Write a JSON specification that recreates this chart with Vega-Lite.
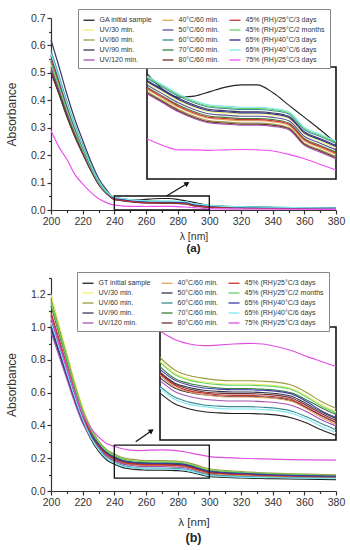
{
"$schema":"https://vega.github.io/schema/vega-lite/v6.json",
"background":"white",
"padding":{"left":5,"top":8,"right":5,"bottom":3},
"spacing":16,
"config":{
 "view":{"stroke":null},
 "font":"Liberation Sans",
 "axis":{"labelFont":"Liberation Sans","titleFont":"Liberation Sans","labelFontSize":10.5,"titleFontSize":12,"titleFontWeight":"normal","labelColor":"#333","titleColor":"#333","domainColor":"#333","tickColor":"#333","domainWidth":1.2,"tickWidth":1.2,"grid":false,"tickSize":4,"labelPadding":2,"labelFlush":false,"labelOverlap":false},
 "legend":{"labelFont":"Liberation Sans","labelFontSize":7,"labelColor":"#333","symbolType":"stroke","symbolSize":121,"symbolStrokeWidth":1.3,"strokeColor":"#888","fillColor":"white","padding":4.5,"rowPadding":-2.6,"columnPadding":7,"labelOffset":4,"labelLimit":200},
 "title":{"font":"Liberation Sans","color":"#222"}
},
"datasets":{
"na":[{"k":1,"n":"GA initial sample"},{"k":2,"n":"UV/30 min."},{"k":3,"n":"UV/60 min."},{"k":4,"n":"UV/90 min."},{"k":5,"n":"UV/120 min."},{"k":6,"n":"40°C/60 min."},{"k":7,"n":"50°C/60 min."},{"k":8,"n":"60°C/60 min."},{"k":9,"n":"70°C/60 min."},{"k":10,"n":"80°C/60 min."},{"k":11,"n":"45% (RH)/25°C/3 days"},{"k":12,"n":"45% (RH)/25°C/2 months"},{"k":13,"n":"65% (RH)/40°C/3 days"},{"k":14,"n":"65% (RH)/40°C/6 days"},{"k":15,"n":"75% (RH)/25°C/3 days"}],
"nb":[{"k":1,"n":"GT initial sample"},{"k":2,"n":"UV/30 min."},{"k":3,"n":"UV/60 min."},{"k":4,"n":"UV/90 min."},{"k":5,"n":"UV/120 min."},{"k":6,"n":"40°C/60 min."},{"k":7,"n":"50°C/60 min."},{"k":8,"n":"60°C/60 min."},{"k":9,"n":"70°C/60 min."},{"k":10,"n":"80°C/60 min."},{"k":11,"n":"45% (RH)/25°C/3 days"},{"k":12,"n":"45% (RH)/25°C/2 months"},{"k":13,"n":"65% (RH)/40°C/3 days"},{"k":14,"n":"65% (RH)/40°C/6 days"},{"k":15,"n":"75% (RH)/25°C/3 days"}],
"boxa":[{"x1":240,"x2":300,"y1":0,"y2":0.051}],
"arra":[{"x1":273,"y1":0.051,"x2":286,"y2":0.097}],
"ia":[{"x1":240,"x2":300,"y1":0,"y2":0.05}],
"boxb":[{"x1":240,"x2":300,"y1":0.078,"y2":0.28}],
"arrb":[{"x1":253.5,"y1":0.30,"x2":263.5,"y2":0.368}],
"ib":[{"x1":240,"x2":300,"y1":0.08,"y2":0.28}],
"a":[
{"k":1,"x":200,"y":0.50},{"k":1,"x":205,"y":0.423},{"k":1,"x":210,"y":0.341},{"k":1,"x":215,"y":0.268},{"k":1,"x":220,"y":0.205},{"k":1,"x":225,"y":0.146},{"k":1,"x":230,"y":0.094},{"k":1,"x":235,"y":0.060},{"k":1,"x":240,"y":0.047},{"k":1,"x":245,"y":0.040},{"k":1,"x":250,"y":0.0365},{"k":1,"x":255,"y":0.037},{"k":1,"x":260,"y":0.039},{"k":1,"x":265,"y":0.041},{"k":1,"x":270,"y":0.042},{"k":1,"x":275,"y":0.042},{"k":1,"x":280,"y":0.0385},{"k":1,"x":285,"y":0.033},{"k":1,"x":290,"y":0.0275},{"k":1,"x":295,"y":0.022},{"k":1,"x":300,"y":0.016},{"k":1,"x":320,"y":0.011},{"k":1,"x":340,"y":0.009},{"k":1,"x":380,"y":0.007},
{"k":2,"x":200,"y":0.53},{"k":2,"x":205,"y":0.448},{"k":2,"x":210,"y":0.361},{"k":2,"x":215,"y":0.284},{"k":2,"x":220,"y":0.217},{"k":2,"x":225,"y":0.154},{"k":2,"x":230,"y":0.099},{"k":2,"x":235,"y":0.064},{"k":2,"x":240,"y":0.043},{"k":2,"x":245,"y":0.039},{"k":2,"x":250,"y":0.035},{"k":2,"x":255,"y":0.032},{"k":2,"x":260,"y":0.030},{"k":2,"x":265,"y":0.0295},{"k":2,"x":270,"y":0.029},{"k":2,"x":275,"y":0.029},{"k":2,"x":280,"y":0.0285},{"k":2,"x":285,"y":0.027},{"k":2,"x":290,"y":0.020},{"k":2,"x":295,"y":0.017},{"k":2,"x":300,"y":0.014},{"k":2,"x":320,"y":0.0105},{"k":2,"x":340,"y":0.0085},{"k":2,"x":380,"y":0.0063},
{"k":3,"x":200,"y":0.54},{"k":3,"x":205,"y":0.456},{"k":3,"x":210,"y":0.368},{"k":3,"x":215,"y":0.289},{"k":3,"x":220,"y":0.221},{"k":3,"x":225,"y":0.157},{"k":3,"x":230,"y":0.101},{"k":3,"x":235,"y":0.065},{"k":3,"x":240,"y":0.039},{"k":3,"x":245,"y":0.035},{"k":3,"x":250,"y":0.031},{"k":3,"x":255,"y":0.028},{"k":3,"x":260,"y":0.026},{"k":3,"x":265,"y":0.0255},{"k":3,"x":270,"y":0.025},{"k":3,"x":275,"y":0.025},{"k":3,"x":280,"y":0.0245},{"k":3,"x":285,"y":0.023},{"k":3,"x":290,"y":0.016},{"k":3,"x":295,"y":0.013},{"k":3,"x":300,"y":0.010},{"k":3,"x":320,"y":0.0085},{"k":3,"x":340,"y":0.0065},{"k":3,"x":380,"y":0.005},
{"k":4,"x":200,"y":0.62},{"k":4,"x":205,"y":0.524},{"k":4,"x":210,"y":0.423},{"k":4,"x":215,"y":0.332},{"k":4,"x":220,"y":0.254},{"k":4,"x":225,"y":0.180},{"k":4,"x":230,"y":0.116},{"k":4,"x":235,"y":0.074},{"k":4,"x":240,"y":0.044},{"k":4,"x":245,"y":0.040},{"k":4,"x":250,"y":0.036},{"k":4,"x":255,"y":0.033},{"k":4,"x":260,"y":0.031},{"k":4,"x":265,"y":0.0305},{"k":4,"x":270,"y":0.030},{"k":4,"x":275,"y":0.030},{"k":4,"x":280,"y":0.0295},{"k":4,"x":285,"y":0.028},{"k":4,"x":290,"y":0.021},{"k":4,"x":295,"y":0.018},{"k":4,"x":300,"y":0.015},{"k":4,"x":320,"y":0.011},{"k":4,"x":340,"y":0.009},{"k":4,"x":380,"y":0.0067},
{"k":5,"x":200,"y":0.51},{"k":5,"x":205,"y":0.431},{"k":5,"x":210,"y":0.348},{"k":5,"x":215,"y":0.273},{"k":5,"x":220,"y":0.209},{"k":5,"x":225,"y":0.148},{"k":5,"x":230,"y":0.095},{"k":5,"x":235,"y":0.061},{"k":5,"x":240,"y":0.038},{"k":5,"x":245,"y":0.034},{"k":5,"x":250,"y":0.030},{"k":5,"x":255,"y":0.027},{"k":5,"x":260,"y":0.025},{"k":5,"x":265,"y":0.0245},{"k":5,"x":270,"y":0.024},{"k":5,"x":275,"y":0.024},{"k":5,"x":280,"y":0.0235},{"k":5,"x":285,"y":0.022},{"k":5,"x":290,"y":0.015},{"k":5,"x":295,"y":0.012},{"k":5,"x":300,"y":0.009},{"k":5,"x":320,"y":0.008},{"k":5,"x":340,"y":0.006},{"k":5,"x":380,"y":0.0047},
{"k":6,"x":200,"y":0.55},{"k":6,"x":205,"y":0.465},{"k":6,"x":210,"y":0.375},{"k":6,"x":215,"y":0.295},{"k":6,"x":220,"y":0.225},{"k":6,"x":225,"y":0.160},{"k":6,"x":230,"y":0.103},{"k":6,"x":235,"y":0.066},{"k":6,"x":240,"y":0.040},{"k":6,"x":245,"y":0.036},{"k":6,"x":250,"y":0.032},{"k":6,"x":255,"y":0.029},{"k":6,"x":260,"y":0.027},{"k":6,"x":265,"y":0.0265},{"k":6,"x":270,"y":0.026},{"k":6,"x":275,"y":0.026},{"k":6,"x":280,"y":0.0255},{"k":6,"x":285,"y":0.024},{"k":6,"x":290,"y":0.017},{"k":6,"x":295,"y":0.014},{"k":6,"x":300,"y":0.011},{"k":6,"x":320,"y":0.009},{"k":6,"x":340,"y":0.007},{"k":6,"x":380,"y":0.0053},
{"k":7,"x":200,"y":0.52},{"k":7,"x":205,"y":0.439},{"k":7,"x":210,"y":0.355},{"k":7,"x":215,"y":0.279},{"k":7,"x":220,"y":0.213},{"k":7,"x":225,"y":0.151},{"k":7,"x":230,"y":0.097},{"k":7,"x":235,"y":0.062},{"k":7,"x":240,"y":0.042},{"k":7,"x":245,"y":0.038},{"k":7,"x":250,"y":0.034},{"k":7,"x":255,"y":0.031},{"k":7,"x":260,"y":0.029},{"k":7,"x":265,"y":0.0285},{"k":7,"x":270,"y":0.028},{"k":7,"x":275,"y":0.028},{"k":7,"x":280,"y":0.0275},{"k":7,"x":285,"y":0.026},{"k":7,"x":290,"y":0.019},{"k":7,"x":295,"y":0.016},{"k":7,"x":300,"y":0.013},{"k":7,"x":320,"y":0.010},{"k":7,"x":340,"y":0.008},{"k":7,"x":380,"y":0.006},
{"k":8,"x":200,"y":0.58},{"k":8,"x":205,"y":0.490},{"k":8,"x":210,"y":0.396},{"k":8,"x":215,"y":0.311},{"k":8,"x":220,"y":0.237},{"k":8,"x":225,"y":0.169},{"k":8,"x":230,"y":0.108},{"k":8,"x":235,"y":0.070},{"k":8,"x":240,"y":0.045},{"k":8,"x":245,"y":0.041},{"k":8,"x":250,"y":0.037},{"k":8,"x":255,"y":0.034},{"k":8,"x":260,"y":0.032},{"k":8,"x":265,"y":0.0315},{"k":8,"x":270,"y":0.031},{"k":8,"x":275,"y":0.031},{"k":8,"x":280,"y":0.0305},{"k":8,"x":285,"y":0.029},{"k":8,"x":290,"y":0.022},{"k":8,"x":295,"y":0.019},{"k":8,"x":300,"y":0.016},{"k":8,"x":320,"y":0.0115},{"k":8,"x":340,"y":0.0095},{"k":8,"x":380,"y":0.007},
{"k":9,"x":200,"y":0.56},{"k":9,"x":205,"y":0.473},{"k":9,"x":210,"y":0.382},{"k":9,"x":215,"y":0.300},{"k":9,"x":220,"y":0.229},{"k":9,"x":225,"y":0.163},{"k":9,"x":230,"y":0.105},{"k":9,"x":235,"y":0.067},{"k":9,"x":240,"y":0.041},{"k":9,"x":245,"y":0.037},{"k":9,"x":250,"y":0.033},{"k":9,"x":255,"y":0.030},{"k":9,"x":260,"y":0.028},{"k":9,"x":265,"y":0.0275},{"k":9,"x":270,"y":0.027},{"k":9,"x":275,"y":0.027},{"k":9,"x":280,"y":0.0265},{"k":9,"x":285,"y":0.025},{"k":9,"x":290,"y":0.018},{"k":9,"x":295,"y":0.015},{"k":9,"x":300,"y":0.012},{"k":9,"x":320,"y":0.0095},{"k":9,"x":340,"y":0.0075},{"k":9,"x":380,"y":0.0057},
{"k":10,"x":200,"y":0.505},{"k":10,"x":205,"y":0.427},{"k":10,"x":210,"y":0.344},{"k":10,"x":215,"y":0.271},{"k":10,"x":220,"y":0.207},{"k":10,"x":225,"y":0.147},{"k":10,"x":230,"y":0.094},{"k":10,"x":235,"y":0.061},{"k":10,"x":240,"y":0.0385},{"k":10,"x":245,"y":0.0345},{"k":10,"x":250,"y":0.0305},{"k":10,"x":255,"y":0.0275},{"k":10,"x":260,"y":0.0255},{"k":10,"x":265,"y":0.025},{"k":10,"x":270,"y":0.0245},{"k":10,"x":275,"y":0.0245},{"k":10,"x":280,"y":0.024},{"k":10,"x":285,"y":0.0225},{"k":10,"x":290,"y":0.0155},{"k":10,"x":295,"y":0.0125},{"k":10,"x":300,"y":0.0095},{"k":10,"x":320,"y":0.0083},{"k":10,"x":340,"y":0.0063},{"k":10,"x":380,"y":0.0048},
{"k":11,"x":200,"y":0.545},{"k":11,"x":205,"y":0.461},{"k":11,"x":210,"y":0.372},{"k":11,"x":215,"y":0.292},{"k":11,"x":220,"y":0.223},{"k":11,"x":225,"y":0.159},{"k":11,"x":230,"y":0.102},{"k":11,"x":235,"y":0.065},{"k":11,"x":240,"y":0.0405},{"k":11,"x":245,"y":0.0365},{"k":11,"x":250,"y":0.0325},{"k":11,"x":255,"y":0.0295},{"k":11,"x":260,"y":0.0275},{"k":11,"x":265,"y":0.027},{"k":11,"x":270,"y":0.0265},{"k":11,"x":275,"y":0.0265},{"k":11,"x":280,"y":0.026},{"k":11,"x":285,"y":0.0245},{"k":11,"x":290,"y":0.0175},{"k":11,"x":295,"y":0.0145},{"k":11,"x":300,"y":0.0115},{"k":11,"x":320,"y":0.0093},{"k":11,"x":340,"y":0.0073},{"k":11,"x":380,"y":0.0055},
{"k":12,"x":200,"y":0.535},{"k":12,"x":205,"y":0.452},{"k":12,"x":210,"y":0.365},{"k":12,"x":215,"y":0.287},{"k":12,"x":220,"y":0.219},{"k":12,"x":225,"y":0.156},{"k":12,"x":230,"y":0.100},{"k":12,"x":235,"y":0.064},{"k":12,"x":240,"y":0.0455},{"k":12,"x":245,"y":0.0415},{"k":12,"x":250,"y":0.0375},{"k":12,"x":255,"y":0.0345},{"k":12,"x":260,"y":0.0325},{"k":12,"x":265,"y":0.032},{"k":12,"x":270,"y":0.0315},{"k":12,"x":275,"y":0.0315},{"k":12,"x":280,"y":0.031},{"k":12,"x":285,"y":0.0295},{"k":12,"x":290,"y":0.0225},{"k":12,"x":295,"y":0.0195},{"k":12,"x":300,"y":0.0165},{"k":12,"x":320,"y":0.0118},{"k":12,"x":340,"y":0.0098},{"k":12,"x":380,"y":0.0072},
{"k":13,"x":200,"y":0.565},{"k":13,"x":205,"y":0.477},{"k":13,"x":210,"y":0.385},{"k":13,"x":215,"y":0.303},{"k":13,"x":220,"y":0.231},{"k":13,"x":225,"y":0.164},{"k":13,"x":230,"y":0.106},{"k":13,"x":235,"y":0.068},{"k":13,"x":240,"y":0.0435},{"k":13,"x":245,"y":0.0395},{"k":13,"x":250,"y":0.0355},{"k":13,"x":255,"y":0.0325},{"k":13,"x":260,"y":0.0305},{"k":13,"x":265,"y":0.030},{"k":13,"x":270,"y":0.0295},{"k":13,"x":275,"y":0.0295},{"k":13,"x":280,"y":0.029},{"k":13,"x":285,"y":0.0275},{"k":13,"x":290,"y":0.0205},{"k":13,"x":295,"y":0.0175},{"k":13,"x":300,"y":0.0145},{"k":13,"x":320,"y":0.0108},{"k":13,"x":340,"y":0.0088},{"k":13,"x":380,"y":0.0065},
{"k":14,"x":200,"y":0.57},{"k":14,"x":205,"y":0.482},{"k":14,"x":210,"y":0.389},{"k":14,"x":215,"y":0.306},{"k":14,"x":220,"y":0.233},{"k":14,"x":225,"y":0.166},{"k":14,"x":230,"y":0.107},{"k":14,"x":235,"y":0.068},{"k":14,"x":240,"y":0.046},{"k":14,"x":245,"y":0.042},{"k":14,"x":250,"y":0.038},{"k":14,"x":255,"y":0.035},{"k":14,"x":260,"y":0.033},{"k":14,"x":265,"y":0.0325},{"k":14,"x":270,"y":0.032},{"k":14,"x":275,"y":0.032},{"k":14,"x":280,"y":0.0315},{"k":14,"x":285,"y":0.030},{"k":14,"x":290,"y":0.023},{"k":14,"x":295,"y":0.020},{"k":14,"x":300,"y":0.017},{"k":14,"x":320,"y":0.012},{"k":14,"x":340,"y":0.010},{"k":14,"x":380,"y":0.0073},
{"k":15,"x":200,"y":0.29},{"k":15,"x":205,"y":0.23},{"k":15,"x":210,"y":0.185},{"k":15,"x":215,"y":0.13},{"k":15,"x":220,"y":0.095},{"k":15,"x":225,"y":0.065},{"k":15,"x":230,"y":0.042},{"k":15,"x":235,"y":0.027},{"k":15,"x":240,"y":0.018},{"k":15,"x":245,"y":0.015},{"k":15,"x":250,"y":0.013},{"k":15,"x":255,"y":0.013},{"k":15,"x":260,"y":0.0128},{"k":15,"x":265,"y":0.013},{"k":15,"x":270,"y":0.0132},{"k":15,"x":275,"y":0.013},{"k":15,"x":280,"y":0.0125},{"k":15,"x":285,"y":0.011},{"k":15,"x":290,"y":0.009},{"k":15,"x":295,"y":0.0065},{"k":15,"x":300,"y":0.004},{"k":15,"x":320,"y":0.003},{"k":15,"x":340,"y":0.003},{"k":15,"x":380,"y":0.002}
],
"b":[
{"k":1,"x":200,"y":1.00},{"k":1,"x":205,"y":0.852},{"k":1,"x":210,"y":0.704},{"k":1,"x":215,"y":0.556},{"k":1,"x":220,"y":0.426},{"k":1,"x":225,"y":0.320},{"k":1,"x":230,"y":0.243},{"k":1,"x":235,"y":0.191},{"k":1,"x":240,"y":0.163},{"k":1,"x":245,"y":0.144},{"k":1,"x":250,"y":0.135},{"k":1,"x":255,"y":0.130},{"k":1,"x":260,"y":0.128},{"k":1,"x":265,"y":0.127},{"k":1,"x":270,"y":0.127},{"k":1,"x":275,"y":0.126},{"k":1,"x":280,"y":0.124},{"k":1,"x":285,"y":0.119},{"k":1,"x":290,"y":0.110},{"k":1,"x":295,"y":0.098},{"k":1,"x":300,"y":0.088},{"k":1,"x":320,"y":0.080},{"k":1,"x":340,"y":0.075},{"k":1,"x":380,"y":0.070},
{"k":2,"x":200,"y":1.20},{"k":2,"x":205,"y":1.022},{"k":2,"x":210,"y":0.845},{"k":2,"x":215,"y":0.667},{"k":2,"x":220,"y":0.511},{"k":2,"x":225,"y":0.389},{"k":2,"x":230,"y":0.300},{"k":2,"x":235,"y":0.248},{"k":2,"x":240,"y":0.220},{"k":2,"x":245,"y":0.198},{"k":2,"x":250,"y":0.188},{"k":2,"x":255,"y":0.183},{"k":2,"x":260,"y":0.180},{"k":2,"x":265,"y":0.179},{"k":2,"x":270,"y":0.179},{"k":2,"x":275,"y":0.178},{"k":2,"x":280,"y":0.176},{"k":2,"x":285,"y":0.171},{"k":2,"x":290,"y":0.158},{"k":2,"x":295,"y":0.143},{"k":2,"x":300,"y":0.130},{"k":2,"x":320,"y":0.114},{"k":2,"x":340,"y":0.105},{"k":2,"x":380,"y":0.095},
{"k":3,"x":200,"y":1.17},{"k":3,"x":205,"y":0.997},{"k":3,"x":210,"y":0.824},{"k":3,"x":215,"y":0.651},{"k":3,"x":220,"y":0.498},{"k":3,"x":225,"y":0.387},{"k":3,"x":230,"y":0.306},{"k":3,"x":235,"y":0.254},{"k":3,"x":240,"y":0.226},{"k":3,"x":245,"y":0.204},{"k":3,"x":250,"y":0.194},{"k":3,"x":255,"y":0.189},{"k":3,"x":260,"y":0.186},{"k":3,"x":265,"y":0.185},{"k":3,"x":270,"y":0.185},{"k":3,"x":275,"y":0.184},{"k":3,"x":280,"y":0.182},{"k":3,"x":285,"y":0.177},{"k":3,"x":290,"y":0.164},{"k":3,"x":295,"y":0.148},{"k":3,"x":300,"y":0.136},{"k":3,"x":320,"y":0.119},{"k":3,"x":340,"y":0.109},{"k":3,"x":380,"y":0.099},
{"k":4,"x":200,"y":0.99},{"k":4,"x":205,"y":0.843},{"k":4,"x":210,"y":0.697},{"k":4,"x":215,"y":0.550},{"k":4,"x":220,"y":0.422},{"k":4,"x":225,"y":0.334},{"k":4,"x":230,"y":0.270},{"k":4,"x":235,"y":0.218},{"k":4,"x":240,"y":0.190},{"k":4,"x":245,"y":0.172},{"k":4,"x":250,"y":0.164},{"k":4,"x":255,"y":0.160},{"k":4,"x":260,"y":0.158},{"k":4,"x":265,"y":0.157},{"k":4,"x":270,"y":0.157},{"k":4,"x":275,"y":0.156},{"k":4,"x":280,"y":0.154},{"k":4,"x":285,"y":0.149},{"k":4,"x":290,"y":0.137},{"k":4,"x":295,"y":0.123},{"k":4,"x":300,"y":0.111},{"k":4,"x":320,"y":0.101},{"k":4,"x":340,"y":0.094},{"k":4,"x":380,"y":0.088},
{"k":5,"x":200,"y":0.97},{"k":5,"x":205,"y":0.826},{"k":5,"x":210,"y":0.683},{"k":5,"x":215,"y":0.539},{"k":5,"x":220,"y":0.413},{"k":5,"x":225,"y":0.327},{"k":5,"x":230,"y":0.265},{"k":5,"x":235,"y":0.213},{"k":5,"x":240,"y":0.185},{"k":5,"x":245,"y":0.166},{"k":5,"x":250,"y":0.157},{"k":5,"x":255,"y":0.152},{"k":5,"x":260,"y":0.150},{"k":5,"x":265,"y":0.149},{"k":5,"x":270,"y":0.149},{"k":5,"x":275,"y":0.148},{"k":5,"x":280,"y":0.146},{"k":5,"x":285,"y":0.141},{"k":5,"x":290,"y":0.130},{"k":5,"x":295,"y":0.116},{"k":5,"x":300,"y":0.105},{"k":5,"x":320,"y":0.096},{"k":5,"x":340,"y":0.090},{"k":5,"x":380,"y":0.084},
{"k":6,"x":200,"y":1.08},{"k":6,"x":205,"y":0.920},{"k":6,"x":210,"y":0.760},{"k":6,"x":215,"y":0.600},{"k":6,"x":220,"y":0.460},{"k":6,"x":225,"y":0.353},{"k":6,"x":230,"y":0.275},{"k":6,"x":235,"y":0.223},{"k":6,"x":240,"y":0.195},{"k":6,"x":245,"y":0.174},{"k":6,"x":250,"y":0.165},{"k":6,"x":255,"y":0.160},{"k":6,"x":260,"y":0.157},{"k":6,"x":265,"y":0.156},{"k":6,"x":270,"y":0.156},{"k":6,"x":275,"y":0.155},{"k":6,"x":280,"y":0.153},{"k":6,"x":285,"y":0.148},{"k":6,"x":290,"y":0.135},{"k":6,"x":295,"y":0.120},{"k":6,"x":300,"y":0.108},{"k":6,"x":320,"y":0.096},{"k":6,"x":340,"y":0.089},{"k":6,"x":380,"y":0.082},
{"k":7,"x":200,"y":1.04},{"k":7,"x":205,"y":0.886},{"k":7,"x":210,"y":0.732},{"k":7,"x":215,"y":0.578},{"k":7,"x":220,"y":0.443},{"k":7,"x":225,"y":0.348},{"k":7,"x":230,"y":0.280},{"k":7,"x":235,"y":0.228},{"k":7,"x":240,"y":0.200},{"k":7,"x":245,"y":0.181},{"k":7,"x":250,"y":0.173},{"k":7,"x":255,"y":0.168},{"k":7,"x":260,"y":0.166},{"k":7,"x":265,"y":0.165},{"k":7,"x":270,"y":0.165},{"k":7,"x":275,"y":0.164},{"k":7,"x":280,"y":0.162},{"k":7,"x":285,"y":0.157},{"k":7,"x":290,"y":0.144},{"k":7,"x":295,"y":0.130},{"k":7,"x":300,"y":0.118},{"k":7,"x":320,"y":0.105},{"k":7,"x":340,"y":0.098},{"k":7,"x":380,"y":0.090},
{"k":8,"x":200,"y":1.02},{"k":8,"x":205,"y":0.869},{"k":8,"x":210,"y":0.718},{"k":8,"x":215,"y":0.567},{"k":8,"x":220,"y":0.435},{"k":8,"x":225,"y":0.331},{"k":8,"x":230,"y":0.255},{"k":8,"x":235,"y":0.203},{"k":8,"x":240,"y":0.175},{"k":8,"x":245,"y":0.156},{"k":8,"x":250,"y":0.147},{"k":8,"x":255,"y":0.142},{"k":8,"x":260,"y":0.140},{"k":8,"x":265,"y":0.139},{"k":8,"x":270,"y":0.139},{"k":8,"x":275,"y":0.138},{"k":8,"x":280,"y":0.136},{"k":8,"x":285,"y":0.131},{"k":8,"x":290,"y":0.121},{"k":8,"x":295,"y":0.109},{"k":8,"x":300,"y":0.098},{"k":8,"x":320,"y":0.089},{"k":8,"x":340,"y":0.084},{"k":8,"x":380,"y":0.078},
{"k":9,"x":200,"y":1.13},{"k":9,"x":205,"y":0.963},{"k":9,"x":210,"y":0.796},{"k":9,"x":215,"y":0.628},{"k":9,"x":220,"y":0.481},{"k":9,"x":225,"y":0.370},{"k":9,"x":230,"y":0.290},{"k":9,"x":235,"y":0.238},{"k":9,"x":240,"y":0.210},{"k":9,"x":245,"y":0.189},{"k":9,"x":250,"y":0.180},{"k":9,"x":255,"y":0.175},{"k":9,"x":260,"y":0.172},{"k":9,"x":265,"y":0.171},{"k":9,"x":270,"y":0.171},{"k":9,"x":275,"y":0.170},{"k":9,"x":280,"y":0.168},{"k":9,"x":285,"y":0.163},{"k":9,"x":290,"y":0.151},{"k":9,"x":295,"y":0.137},{"k":9,"x":300,"y":0.125},{"k":9,"x":320,"y":0.110},{"k":9,"x":340,"y":0.101},{"k":9,"x":380,"y":0.092},
{"k":10,"x":200,"y":1.07},{"k":10,"x":205,"y":0.912},{"k":10,"x":210,"y":0.753},{"k":10,"x":215,"y":0.595},{"k":10,"x":220,"y":0.456},{"k":10,"x":225,"y":0.353},{"k":10,"x":230,"y":0.278},{"k":10,"x":235,"y":0.226},{"k":10,"x":240,"y":0.198},{"k":10,"x":245,"y":0.179},{"k":10,"x":250,"y":0.170},{"k":10,"x":255,"y":0.165},{"k":10,"x":260,"y":0.163},{"k":10,"x":265,"y":0.162},{"k":10,"x":270,"y":0.162},{"k":10,"x":275,"y":0.161},{"k":10,"x":280,"y":0.159},{"k":10,"x":285,"y":0.154},{"k":10,"x":290,"y":0.141},{"k":10,"x":295,"y":0.127},{"k":10,"x":300,"y":0.115},{"k":10,"x":320,"y":0.103},{"k":10,"x":340,"y":0.096},{"k":10,"x":380,"y":0.089},
{"k":11,"x":200,"y":1.09},{"k":11,"x":205,"y":0.929},{"k":11,"x":210,"y":0.767},{"k":11,"x":215,"y":0.606},{"k":11,"x":220,"y":0.464},{"k":11,"x":225,"y":0.356},{"k":11,"x":230,"y":0.277},{"k":11,"x":235,"y":0.225},{"k":11,"x":240,"y":0.197},{"k":11,"x":245,"y":0.177},{"k":11,"x":250,"y":0.167},{"k":11,"x":255,"y":0.163},{"k":11,"x":260,"y":0.160},{"k":11,"x":265,"y":0.159},{"k":11,"x":270,"y":0.159},{"k":11,"x":275,"y":0.158},{"k":11,"x":280,"y":0.156},{"k":11,"x":285,"y":0.151},{"k":11,"x":290,"y":0.138},{"k":11,"x":295,"y":0.124},{"k":11,"x":300,"y":0.112},{"k":11,"x":320,"y":0.101},{"k":11,"x":340,"y":0.094},{"k":11,"x":380,"y":0.087},
{"k":12,"x":200,"y":1.15},{"k":12,"x":205,"y":0.980},{"k":12,"x":210,"y":0.810},{"k":12,"x":215,"y":0.639},{"k":12,"x":220,"y":0.490},{"k":12,"x":225,"y":0.379},{"k":12,"x":230,"y":0.298},{"k":12,"x":235,"y":0.246},{"k":12,"x":240,"y":0.218},{"k":12,"x":245,"y":0.196},{"k":12,"x":250,"y":0.186},{"k":12,"x":255,"y":0.181},{"k":12,"x":260,"y":0.178},{"k":12,"x":265,"y":0.177},{"k":12,"x":270,"y":0.177},{"k":12,"x":275,"y":0.176},{"k":12,"x":280,"y":0.174},{"k":12,"x":285,"y":0.169},{"k":12,"x":290,"y":0.156},{"k":12,"x":295,"y":0.140},{"k":12,"x":300,"y":0.128},{"k":12,"x":320,"y":0.113},{"k":12,"x":340,"y":0.104},{"k":12,"x":380,"y":0.094},
{"k":13,"x":200,"y":1.01},{"k":13,"x":205,"y":0.861},{"k":13,"x":210,"y":0.711},{"k":13,"x":215,"y":0.562},{"k":13,"x":220,"y":0.430},{"k":13,"x":225,"y":0.346},{"k":13,"x":230,"y":0.285},{"k":13,"x":235,"y":0.233},{"k":13,"x":240,"y":0.205},{"k":13,"x":245,"y":0.186},{"k":13,"x":250,"y":0.177},{"k":13,"x":255,"y":0.172},{"k":13,"x":260,"y":0.170},{"k":13,"x":265,"y":0.169},{"k":13,"x":270,"y":0.169},{"k":13,"x":275,"y":0.168},{"k":13,"x":280,"y":0.166},{"k":13,"x":285,"y":0.161},{"k":13,"x":290,"y":0.148},{"k":13,"x":295,"y":0.132},{"k":13,"x":300,"y":0.120},{"k":13,"x":320,"y":0.107},{"k":13,"x":340,"y":0.099},{"k":13,"x":380,"y":0.091},
{"k":14,"x":200,"y":1.03},{"k":14,"x":205,"y":0.878},{"k":14,"x":210,"y":0.725},{"k":14,"x":215,"y":0.573},{"k":14,"x":220,"y":0.439},{"k":14,"x":225,"y":0.331},{"k":14,"x":230,"y":0.252},{"k":14,"x":235,"y":0.200},{"k":14,"x":240,"y":0.172},{"k":14,"x":245,"y":0.152},{"k":14,"x":250,"y":0.143},{"k":14,"x":255,"y":0.139},{"k":14,"x":260,"y":0.136},{"k":14,"x":265,"y":0.135},{"k":14,"x":270,"y":0.135},{"k":14,"x":275,"y":0.134},{"k":14,"x":280,"y":0.132},{"k":14,"x":285,"y":0.127},{"k":14,"x":290,"y":0.117},{"k":14,"x":295,"y":0.104},{"k":14,"x":300,"y":0.093},{"k":14,"x":320,"y":0.085},{"k":14,"x":340,"y":0.081},{"k":14,"x":380,"y":0.076},
{"k":15,"x":200,"y":1.06},{"k":15,"x":205,"y":0.90},{"k":15,"x":210,"y":0.75},{"k":15,"x":215,"y":0.60},{"k":15,"x":220,"y":0.47},{"k":15,"x":225,"y":0.385},{"k":15,"x":230,"y":0.33},{"k":15,"x":235,"y":0.29},{"k":15,"x":240,"y":0.273},{"k":15,"x":245,"y":0.258},{"k":15,"x":250,"y":0.25},{"k":15,"x":255,"y":0.247},{"k":15,"x":260,"y":0.248},{"k":15,"x":265,"y":0.25},{"k":15,"x":270,"y":0.251},{"k":15,"x":275,"y":0.25},{"k":15,"x":280,"y":0.245},{"k":15,"x":285,"y":0.238},{"k":15,"x":290,"y":0.228},{"k":15,"x":295,"y":0.219},{"k":15,"x":300,"y":0.21},{"k":15,"x":320,"y":0.20},{"k":15,"x":340,"y":0.194},{"k":15,"x":380,"y":0.188}
]
},
"vconcat":[
{
 "width":285,"height":192,
 "title":{"text":"(a)","orient":"bottom","frame":"group","anchor":"middle","fontSize":11.5,"fontWeight":"bold","offset":1},
 "layer":[
   {"data":{"name":"a"},
    "transform":[{"lookup":"k","from":{"data":{"name":"na"},"key":"k","fields":["n"]}}],
    "mark":{"type":"line","strokeWidth":1.2,"interpolate":"monotone"},
    "encoding":{
     "x":{"field":"x","type":"quantitative","scale":{"domain":[200,380],"nice":false,"zero":false},"axis":{"orient":"bottom","values":[200,220,240,260,280,300,320,340,360,380],"title":"λ [nm]","titleFontSize":10.5,"titlePadding":5}},
     "y":{"field":"y","type":"quantitative","scale":{"domain":[0,0.7],"nice":false},"axis":{"orient":"left","values":[0,0.1,0.2,0.3,0.4,0.5,0.6,0.7],"format":".1f","title":"Absorbance","titlePadding":12}},
     "color":{"field":"n","type":"nominal",
      "scale":{"domain":["GA initial sample","UV/30 min.","UV/60 min.","UV/90 min.","UV/120 min.","40°C/60 min.","50°C/60 min.","60°C/60 min.","70°C/60 min.","80°C/60 min.","45% (RH)/25°C/3 days","45% (RH)/25°C/2 months","65% (RH)/40°C/3 days","65% (RH)/40°C/6 days","75% (RH)/25°C/3 days"],
               "range":["#222222","#eeee70","#9c9c40","#36365e","#a452b4","#e2a45a","#5e5490","#3d8c94","#3c7c3c","#6e3434","#cc3333","#66d266","#2e2e8e","#7ee8f0","#f050f0"]},
      "legend":{"title":null,"orient":"none","legendX":27,"legendY":-9,"columns":3}}
    }},
   {"data":{"name":"boxa"},"mark":{"type":"rect","fill":"transparent","stroke":"#111","strokeWidth":1.3},
    "encoding":{"x":{"field":"x1","type":"quantitative","scale":{"domain":[200,380],"nice":false,"zero":false},"axis":{"orient":"bottom","values":[210,230,250,270,290,310,330,350,370],"labels":false,"domain":false,"tickSize":2.5,"title":null}},"x2":{"field":"x2"},"y":{"field":"y1","type":"quantitative","scale":{"domain":[0,0.7],"nice":false},"axis":{"orient":"left","values":[0.05,0.15,0.25,0.35,0.45,0.55,0.65],"labels":false,"domain":false,"tickSize":2.5,"title":null}},"y2":{"field":"y2"}}},
   {"data":{"name":"arra"},"mark":{"type":"rule","strokeWidth":1.2,"color":"#111"},
    "encoding":{"x":{"field":"x1","type":"quantitative","scale":{"domain":[200,380],"nice":false,"zero":false},"axis":null},"x2":{"field":"x2"},"y":{"field":"y1","type":"quantitative","scale":{"domain":[0,0.7],"nice":false},"axis":null},"y2":{"field":"y2"}}},
   {"data":{"name":"arra"},"mark":{"type":"point","shape":"triangle-up","filled":true,"size":35,"angle":57,"color":"#111","opacity":1},
    "encoding":{"x":{"field":"x2","type":"quantitative","scale":{"domain":[200,380],"nice":false,"zero":false},"axis":null},"y":{"field":"y2","type":"quantitative","scale":{"domain":[0,0.7],"nice":false},"axis":null}}},
   {"data":{"name":"ia"},"mark":{"type":"rect","fill":"white","stroke":"#111","strokeWidth":1.6},
    "encoding":{"x":{"field":"x1","type":"quantitative","scale":{"domain":[240,300],"range":[96,285],"nice":false,"zero":false},"axis":null},"x2":{"field":"x2"},"y":{"field":"y1","type":"quantitative","scale":{"domain":[0,0.05],"range":[161,49],"nice":false,"zero":false},"axis":null},"y2":{"field":"y2"}}},
   {"data":{"name":"a"},
    "transform":[{"filter":{"field":"x","range":[240,300]}},{"lookup":"k","from":{"data":{"name":"na"},"key":"k","fields":["n"]}}],
    "mark":{"type":"line","strokeWidth":1.1,"interpolate":"monotone"},
    "encoding":{"x":{"field":"x","type":"quantitative","scale":{"domain":[240,300],"range":[96,285],"nice":false,"zero":false},"axis":null},"y":{"field":"y","type":"quantitative","scale":{"domain":[0,0.05],"range":[161,49],"nice":false,"zero":false},"axis":null},"color":{"field":"n","type":"nominal","legend":null}}}
 ],
 "resolve":{"scale":{"x":"independent","y":"independent"}}
},
{
 "width":285,"height":213,
 "title":{"text":"(b)","orient":"bottom","frame":"group","anchor":"middle","fontSize":12.5,"fontWeight":"bold","offset":4},
 "layer":[
   {"data":{"name":"b"},
    "transform":[{"lookup":"k","from":{"data":{"name":"nb"},"key":"k","fields":["n"]}}],
    "mark":{"type":"line","strokeWidth":1.2,"interpolate":"monotone"},
    "encoding":{
     "x":{"field":"x","type":"quantitative","scale":{"domain":[200,380],"nice":false,"zero":false},"axis":{"orient":"bottom","values":[200,220,240,260,280,300,320,340,360,380],"title":"λ [nm]","titleFontSize":11.5,"titlePadding":9}},
     "y":{"field":"y","type":"quantitative","scale":{"domain":[0,1.3],"nice":false},"axis":{"orient":"left","values":[0,0.2,0.4,0.6,0.8,1.0,1.2],"format":".1f","title":"Absorbance","titlePadding":12}},
     "color":{"field":"n","type":"nominal",
      "scale":{"domain":["GT initial sample","UV/30 min.","UV/60 min.","UV/90 min.","UV/120 min.","40°C/60 min.","50°C/60 min.","60°C/60 min.","70°C/60 min.","80°C/60 min.","45% (RH)/25°C/3 days","45% (RH)/25°C/2 months","65% (RH)/40°C/3 days","65% (RH)/40°C/6 days","75% (RH)/25°C/3 days"],
               "range":["#222222","#eeee70","#9c9c40","#36365e","#a452b4","#e2a45a","#33334f","#3d8c94","#3c7c3c","#6e3434","#cc3333","#66d266","#3a3aa0","#7ee8f0","#e050e0"]},
      "legend":{"title":null,"orient":"none","legendX":26,"legendY":-6,"columns":3}}
    }},
   {"data":{"name":"boxb"},"mark":{"type":"rect","fill":"transparent","stroke":"#111","strokeWidth":1.3},
    "encoding":{"x":{"field":"x1","type":"quantitative","scale":{"domain":[200,380],"nice":false,"zero":false},"axis":{"orient":"bottom","values":[210,230,250,270,290,310,330,350,370],"labels":false,"domain":false,"tickSize":2.5,"title":null}},"x2":{"field":"x2"},"y":{"field":"y1","type":"quantitative","scale":{"domain":[0,1.3],"nice":false},"axis":{"orient":"left","values":[0.1,0.3,0.5,0.7,0.9,1.1,1.3],"labels":false,"domain":false,"tickSize":2.5,"title":null}},"y2":{"field":"y2"}}},
   {"data":{"name":"arrb"},"mark":{"type":"rule","strokeWidth":1.2,"color":"#111"},
    "encoding":{"x":{"field":"x1","type":"quantitative","scale":{"domain":[200,380],"nice":false,"zero":false},"axis":null},"x2":{"field":"x2"},"y":{"field":"y1","type":"quantitative","scale":{"domain":[0,1.3],"nice":false},"axis":null},"y2":{"field":"y2"}}},
   {"data":{"name":"arrb"},"mark":{"type":"point","shape":"triangle-up","filled":true,"size":35,"angle":55,"color":"#111","opacity":1},
    "encoding":{"x":{"field":"x2","type":"quantitative","scale":{"domain":[200,380],"nice":false,"zero":false},"axis":null},"y":{"field":"y2","type":"quantitative","scale":{"domain":[0,1.3],"nice":false},"axis":null}}},
   {"data":{"name":"ib"},"mark":{"type":"rect","fill":"white","stroke":"#111","strokeWidth":1.6},
    "encoding":{"x":{"field":"x1","type":"quantitative","scale":{"domain":[240,300],"range":[109,285],"nice":false,"zero":false},"axis":null},"x2":{"field":"x2"},"y":{"field":"y1","type":"quantitative","scale":{"domain":[0.08,0.28],"range":[162,49],"nice":false,"zero":false},"axis":null},"y2":{"field":"y2"}}},
   {"data":{"name":"b"},
    "transform":[{"filter":{"field":"x","range":[240,300]}},{"lookup":"k","from":{"data":{"name":"nb"},"key":"k","fields":["n"]}}],
    "mark":{"type":"line","strokeWidth":1.1,"interpolate":"monotone"},
    "encoding":{"x":{"field":"x","type":"quantitative","scale":{"domain":[240,300],"range":[109,285],"nice":false,"zero":false},"axis":null},"y":{"field":"y","type":"quantitative","scale":{"domain":[0.08,0.28],"range":[162,49],"nice":false,"zero":false},"axis":null},"color":{"field":"n","type":"nominal","legend":null}}}
 ],
 "resolve":{"scale":{"x":"independent","y":"independent"}}
}
],
"resolve":{"scale":{"color":"independent"}}
}
